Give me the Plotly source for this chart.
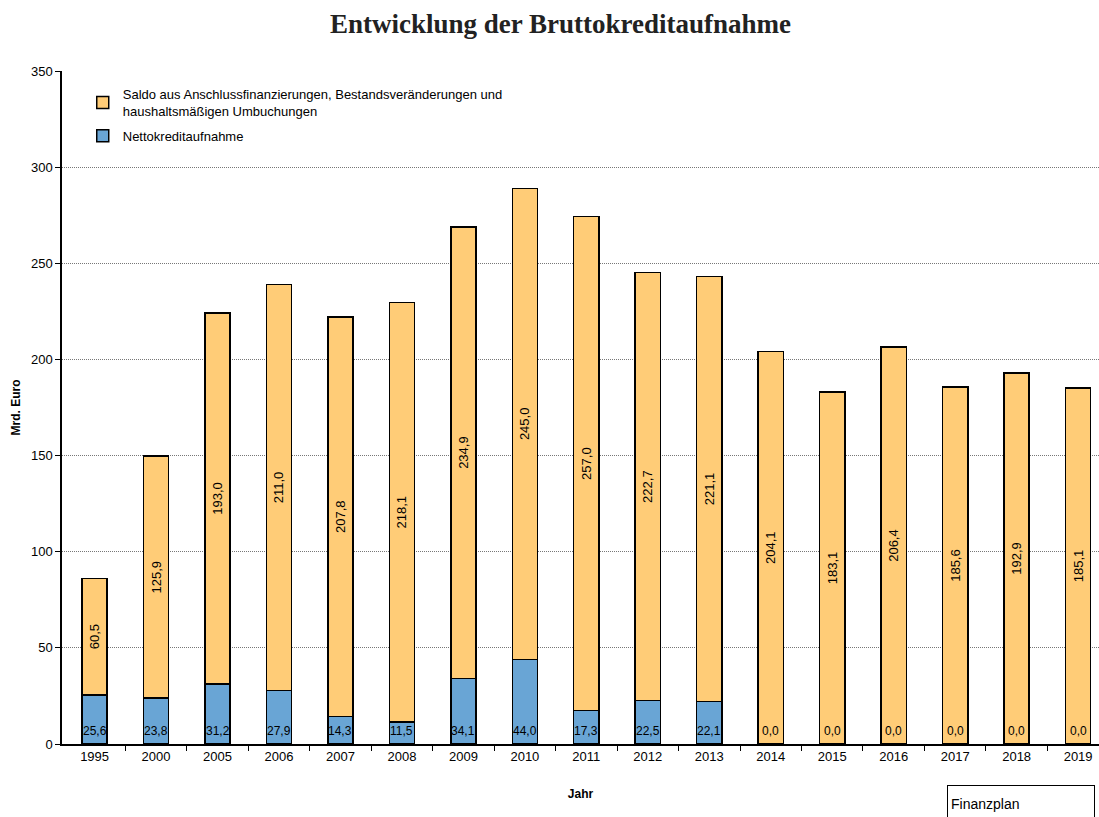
import plotly.graph_objects as go

# Daten (Mrd. Euro)
jahre = ['1995', '2000', '2005', '2006', '2007', '2008', '2009', '2010', '2011',
         '2012', '2013', '2014', '2015', '2016', '2017', '2018', '2019']
netto = [25.6, 23.8, 31.2, 27.9, 14.3, 11.5, 34.1, 44.0, 17.3,
         22.5, 22.1, 0.0, 0.0, 0.0, 0.0, 0.0, 0.0]
saldo = [60.5, 125.9, 193.0, 211.0, 207.8, 218.1, 234.9, 245.0, 257.0,
         222.7, 221.1, 204.1, 183.1, 206.4, 185.6, 192.9, 185.1]

x = list(range(len(jahre)))
ORANGE = '#FFCC77'
BLAU = '#69A5D5'

fig = go.Figure()

# Nettokreditaufnahme (unten)
fig.add_trace(go.Bar(
    x=x, y=netto, name='Nettokreditaufnahme', legendrank=2, legendgroup='netto',
    marker=dict(color=BLAU, line=dict(color='black', width=1.5)),
    width=0.41,
))

# Saldo (oben)
fig.add_trace(go.Bar(
    x=x, y=saldo, legendrank=1, legendgroup='saldo',
    name='Saldo aus Anschlussfinanzierungen, Bestandsveränderungen und<br>haushaltsmäßigen Umbuchungen',
    marker=dict(color=ORANGE, line=dict(color='black', width=1.5)),
    width=0.41,
    texttemplate='%{y:.1f}', textposition='inside', insidetextanchor='middle',
    textangle=-90, constraintext='none',
    insidetextfont=dict(family='Liberation Sans, Arial', size=13, color='black'),
))

# Werte der Nettokreditaufnahme am Fuß der Säulen
for xi, v in zip(x, netto):
    fig.add_annotation(
        x=xi, y=0, text=f'{v:.1f}'.replace('.', ','), showarrow=False,
        xanchor='center', yanchor='bottom', yshift=4,
        font=dict(family='Liberation Sans, Arial', size=12, color='black'),
    )

fig.update_layout(
    barmode='stack',
    separators=',.',
    width=1099, height=817,
    plot_bgcolor='white', paper_bgcolor='white',
    margin=dict(l=62, r=0, t=71, b=73),
    font=dict(family='Liberation Sans, Arial', size=13, color='black'),
    title=dict(text='<b>Entwicklung der Bruttokreditaufnahme</b>',
               font=dict(family='Liberation Serif, Times New Roman', size=27, color='#222'),
               x=0.51, xanchor='center', y=0.971, yanchor='middle'),
    legend=dict(x=0.02, y=0.988, xanchor='left', yanchor='top',
                traceorder='grouped', tracegroupgap=5, bgcolor='rgba(0,0,0,0)',
                font=dict(size=13), itemwidth=30),
    showlegend=True,
)

fig.update_xaxes(
    range=[-0.53, 16.34],
    tickmode='array', tickvals=x, ticktext=jahre, ticks='',
    showline=True, linecolor='black', linewidth=1.5,
    showgrid=False, zeroline=False,
    minor=dict(tickmode='array', tickvals=[i + 0.5 for i in x],
               ticks='outside', ticklen=5, tickcolor='black', tickwidth=1),
    title=dict(text='<b>Jahr</b>', font=dict(size=12), standoff=26),
    tickfont=dict(size=13),
)

fig.update_yaxes(
    range=[0, 350], dtick=50,
    showline=True, linecolor='black', linewidth=1.5,
    ticks='outside', ticklen=5, tickcolor='black',
    showgrid=True, gridcolor='#777', griddash='1px,1px', gridwidth=1,
    zeroline=False,
    title=dict(text='<b>Mrd. Euro</b>', font=dict(size=12), standoff=8),
    tickfont=dict(size=13),
)

# Finanzplan-Kasten
fig.add_annotation(
    xref='paper', yref='paper', x=0.853, y=-0.061,
    xanchor='left', yanchor='top',
    text='Finanzplan', showarrow=False, align='left', valign='middle',
    width=140, height=30, bordercolor='black', borderwidth=1,
    font=dict(size=14), borderpad=3,
)

fig.write_html('out.html', config={'displayModeBar': False},
               post_script="document.body.style.margin='0';")
